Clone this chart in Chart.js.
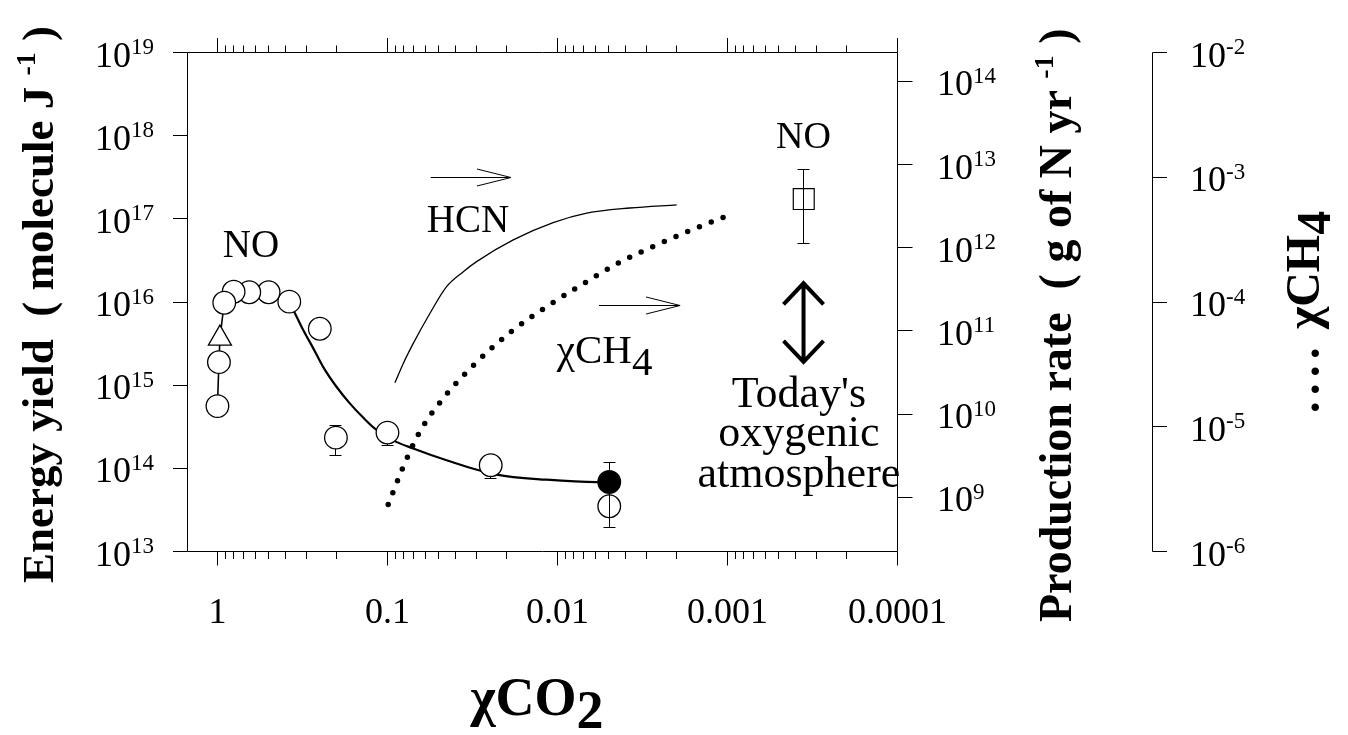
<!DOCTYPE html>
<html>
<head>
<meta charset="utf-8">
<script src="https://cdn.jsdelivr.net/npm/chart.js@4.4.0/dist/chart.umd.min.js"></script>
<style>
  html, body { margin: 0; padding: 0; background: #fff; }
  canvas { display: block; }
</style>
</head>
<body>
<canvas id="chart" width="1348" height="735"></canvas>
<script>
/* ===========================
   DATA
=========================== */
// NO energy yield, open circles
const noCO2   = [0.0247, 0.1, 0.201, 0.25, 0.378, 0.5, 0.65, 0.803, 0.912, 0.98, 1.0];
const noYield = [1.09e14, 2.69e14, 2.34e14, 4.77e15, 1.01e16, 1.31e16, 1.31e16, 1.33e16, 9.8e15, 1.89e15, 5.6e14];

// open triangle
const triCO2   = [0.967];
const triYield = [3.65e15];

// short line through the points near chi CO2 = 1
const linkCO2   = [1.0, 0.98, 0.967, 0.912];
const linkYield = [5.6e14, 1.89e15, 3.65e15, 9.8e15];

// present-day CO2 level: filled and open circle
const nowFilledCO2   = [0.00496];
const nowFilledYield = [6.84e13];
const nowOpenCO2     = [0.00496];
const nowOpenYield   = [3.5e13];

// today's oxygenic atmosphere (square)
const todayCO2   = [0.000356];
const todayYield = [1.73e17];

// fitted curve through the NO yields
const fitCO2   = [0.378, 0.353, 0.313, 0.273, 0.239, 0.199, 0.166, 0.139, 0.1185, 0.0924, 0.0705, 0.0449, 0.0228, 0.0116, 0.00588, 0.00496];
const fitYield = [1.01e16, 7.6e15, 4.6e15, 2.77e15, 1.66e15, 9.5e14, 6.0e14, 4.08e14, 3.0e14, 2.17e14, 1.73e14, 1.25e14, 8.4e13, 7.3e13, 6.84e13, 6.84e13];

// HCN production rate (g of N / yr)
const hcnCO2  = [0.0904, 0.0807, 0.0705, 0.0562, 0.0449, 0.0358, 0.0299, 0.0182, 0.0106, 0.00673, 0.00375, 0.00199];
const hcnRate = [2.37e10, 4.06e10, 7.07e10, 1.63e11, 3.4e11, 5.15e11, 6.8e11, 1.24e12, 2.0e12, 2.6e12, 3.0e12, 3.28e12];

// methane mixing ratio (dotted)
const ch4CO2 = [0.099, 0.0814, 0.065, 0.047, 0.0299, 0.0186, 0.0113, 0.00705, 0.00439, 0.00273, 0.00166, 0.00103];
const ch4Mix = [2.38e-6, 4.65e-6, 8.95e-6, 1.69e-5, 3.29e-5, 5.83e-5, 9.38e-5, 1.40e-4, 2.05e-4, 2.79e-4, 3.74e-4, 4.84e-4];

// error bars (energy yield axis)
const errCO2 = [0.201, 0.1, 0.0247, 0.00496, 0.000356];
const errLo  = [1.41e14, 1.86e14, 7.5e13, 1.95e13, 5.0e16];
const errHi  = [3.3e14, 2.69e14, 1.09e14, 1.17e14, 3.97e17];

// ticks
const xTickVals   = [1, 0.1, 0.01, 0.001, 0.0001];
const xTickLabels = ["1", "0.1", "0.01", "0.001", "0.0001"];
const yieldExp = [13, 14, 15, 16, 17, 18, 19];
const prodExp  = [9, 10, 11, 12, 13, 14];
const ch4Exp   = [-6, -5, -4, -3, -2];

/* ===========================
   HELPERS
=========================== */
const SERIF = '"Liberation Serif", "Times New Roman", serif';
const font = (size, bold) => (bold ? "bold " : "") + size + "px " + SERIF;
const pts = (xs, ys) => xs.map((x, i) => ({ x, y: ys[i] }));
const snap = v => Math.round(v - 0.5) + 0.5;

// a part may carry extra letter spacing (gap)
function partWidth(ctx, p) {
  ctx.font = p.font;
  if (!p.gap) return ctx.measureText(p.text).width;
  return [...p.text].reduce((w, ch) => w + ctx.measureText(ch).width + p.gap, 0);
}

function drawRich(ctx, parts, x, y, align) {
  const w = parts.reduce((s, p) => s + partWidth(ctx, p), 0);
  let cx = align === "center" ? x - w / 2 : align === "right" ? x - w : x;
  ctx.textAlign = "left";
  ctx.textBaseline = "alphabetic";
  parts.forEach(p => {
    ctx.font = p.font;
    if (p.gap) {
      [...p.text].forEach(ch => {
        ctx.fillText(ch, cx, y + (p.dy || 0));
        cx += ctx.measureText(ch).width + p.gap;
      });
    } else {
      ctx.fillText(p.text, cx, y + (p.dy || 0));
      cx += ctx.measureText(p.text).width;
    }
  });
}

function drawRotated(ctx, parts, x, y) {
  ctx.save();
  ctx.translate(x, y);
  ctx.rotate(-Math.PI / 2);
  drawRich(ctx, parts, 0, 0, "left");
  ctx.restore();
}

function pow10Label(exp, size, supSize) {
  return [
    { text: "10", font: font(size) },
    { text: String(exp), font: font(supSize), dy: -12.5 }
  ];
}

/* ===========================
   ERROR BARS
=========================== */
const errorBars = {
  id: "errorBars",
  beforeDatasetsDraw(chart) {
    const { ctx, scales } = chart;
    ctx.save();
    ctx.strokeStyle = "#000";
    ctx.lineWidth = 1;
    errCO2.forEach((c, i) => {
      const px = snap(scales.x.getPixelForValue(c));
      const lo = scales.y.getPixelForValue(errLo[i]);
      const hi = scales.y.getPixelForValue(errHi[i]);
      ctx.beginPath();
      ctx.moveTo(px, lo); ctx.lineTo(px, hi);
      ctx.moveTo(px - 6, snap(lo)); ctx.lineTo(px + 6, snap(lo));
      ctx.moveTo(px - 6, snap(hi)); ctx.lineTo(px + 6, snap(hi));
      ctx.stroke();
    });
    ctx.restore();
  }
};

/* ===========================
   AXES, LABELS, NOTES
=========================== */
const CH4_AXIS_X = 1152.5;

const frame = {
  id: "frame",
  afterDraw(chart) {
    const { ctx, chartArea: a, scales } = chart;
    const xs = scales.x, ys = scales.y, yp = scales.yProd, yc = scales.yCH4;
    ctx.save();
    ctx.strokeStyle = "#000";
    ctx.fillStyle = "#000";
    ctx.lineWidth = 1;

    ctx.beginPath();
    // plot box (right side is the production-rate axis)
    ctx.moveTo(a.left, a.top); ctx.lineTo(a.left, a.bottom);
    ctx.moveTo(a.left, a.top); ctx.lineTo(a.right, a.top);
    ctx.moveTo(a.left, a.bottom); ctx.lineTo(a.right, a.bottom);
    ctx.moveTo(a.right, a.top); ctx.lineTo(a.right, a.bottom);

    // energy-yield ticks
    yieldExp.forEach(e => {
      const py = snap(ys.getPixelForValue(Math.pow(10, e)));
      ctx.moveTo(a.left - 14.5, py); ctx.lineTo(a.left, py);
    });
    // production-rate ticks
    prodExp.forEach(e => {
      const py = snap(yp.getPixelForValue(Math.pow(10, e)));
      ctx.moveTo(a.right, py); ctx.lineTo(a.right + 15, py);
    });
    // methane axis
    ctx.moveTo(CH4_AXIS_X, a.top); ctx.lineTo(CH4_AXIS_X, a.bottom);
    ch4Exp.forEach(e => {
      const py = snap(yc.getPixelForValue(Math.pow(10, e)));
      ctx.moveTo(CH4_AXIS_X, py); ctx.lineTo(CH4_AXIS_X + 14.5, py);
    });
    // chi CO2 ticks, top and bottom, majors and minors
    xTickVals.forEach(v => {
      const px = snap(xs.getPixelForValue(v));
      ctx.moveTo(px, a.top); ctx.lineTo(px, a.top - 14.5);
      ctx.moveTo(px, a.bottom); ctx.lineTo(px, a.bottom + 14);
      for (let m = 2; m <= 9; m++) {
        const mv = m * v;
        if (mv > xs.max) break;
        const mx = snap(xs.getPixelForValue(mv));
        ctx.moveTo(mx, a.top); ctx.lineTo(mx, a.top - 7);
        ctx.moveTo(mx, a.bottom); ctx.lineTo(mx, a.bottom + 7.5);
      }
    });
    ctx.stroke();

    // tick labels
    yieldExp.forEach(e => {
      const py = ys.getPixelForValue(Math.pow(10, e));
      drawRich(ctx, pow10Label(e, 36, 23), 154, py + 14, "right");
    });
    prodExp.forEach(e => {
      const py = yp.getPixelForValue(Math.pow(10, e));
      drawRich(ctx, pow10Label(e, 36, 23), 937, py + 14, "left");
    });
    ch4Exp.forEach(e => {
      const py = yc.getPixelForValue(Math.pow(10, e));
      drawRich(ctx, pow10Label(e, 36, 23), 1190, py + 14, "left");
    });
    xTickVals.forEach((v, i) => {
      drawRich(ctx, [{ text: xTickLabels[i], font: font(36) }], xs.getPixelForValue(v), 623, "center");
    });

    // axis titles
    drawRotated(ctx, [
      { text: "Energy yield  ( molecule J ", font: font(45, true) },
      { text: "-1", font: font(28, true), dy: -18 },
      { text: " )", font: font(45, true) }
    ], 53, 583);
    drawRotated(ctx, [
      { text: "Production rate  ( g of N yr ", font: font(46, true) },
      { text: "-1", font: font(28, true), dy: -18 },
      { text: " )", font: font(46, true) }
    ], 1071, 622);
    drawRotated(ctx, [
      { text: "....", font: font(46, true), gap: 6.5 },
      { text: " \u03C7CH", font: font(48, true) },
      { text: "4", font: font(48, true), dy: 11 }
    ], 1319, 413);
    drawRich(ctx, [
      { text: "\u03C7CO", font: font(54, true) },
      { text: "2", font: font(54, true), dy: 13 }
    ], 537, 715, "center");

    // notes placed in data coordinates
    const X = v => xs.getPixelForValue(v), Y = v => ys.getPixelForValue(v);
    drawRich(ctx, [{ text: "NO", font: font(39) }], X(0.635), Y(3.48e16), "center");
    drawRich(ctx, [{ text: "HCN", font: font(39) }], X(0.0336), Y(6.94e16), "center");
    drawRich(ctx, [
      { text: "\u03C7CH", font: font(41) },
      { text: "4", font: font(41), dy: 12 }
    ], X(0.0101), Y(1.85e15), "left");
    drawRich(ctx, [{ text: "NO", font: font(38) }], X(0.000357), Y(7.05e17), "center");
    drawRich(ctx, [{ text: "Today's", font: font(44) }], X(0.00038), Y(5.46e14), "center");
    drawRich(ctx, [{ text: "oxygenic", font: font(44) }], X(0.00038), Y(1.855e14), "center");
    drawRich(ctx, [{ text: "atmosphere", font: font(44) }], X(0.00038), Y(5.96e13), "center");

    // thin arrows pointing to the right-hand axes
    const arrow = (x1, x2, y) => {
      ctx.beginPath();
      ctx.lineWidth = 1;
      ctx.moveTo(x1, y); ctx.lineTo(x2, y);
      ctx.moveTo(x2 - 34, y - 8.5); ctx.lineTo(x2, y); ctx.lineTo(x2 - 34, y + 8.5);
      ctx.stroke();
    };
    arrow(X(0.0557), X(0.01877), snap(Y(3.12e17)));
    arrow(X(0.0057), X(0.0019), snap(Y(9.12e15)));

    // double-headed arrow under today's NO
    const dx = X(0.000357), t = Y(1.68e16), b = Y(1.91e15);
    ctx.beginPath();
    ctx.lineWidth = 4;
    ctx.lineJoin = "miter";
    ctx.moveTo(dx, t + 1); ctx.lineTo(dx, b - 1);
    ctx.moveTo(dx - 20, t + 21); ctx.lineTo(dx, t); ctx.lineTo(dx + 20, t + 21);
    ctx.moveTo(dx - 20, b - 21); ctx.lineTo(dx, b); ctx.lineTo(dx + 20, b - 21);
    ctx.stroke();

    ctx.restore();
  }
};

/* ===========================
   CHART
=========================== */
new Chart(document.getElementById("chart"), {
  type: "scatter",
  data: {
    datasets: [
      {
        label: "NO",
        data: pts(noCO2, noYield),
        pointStyle: "circle",
        pointRadius: 11.3,
        backgroundColor: "#fff",
        borderColor: "#000",
        borderWidth: 1.3,
        order: 1
      },
      {
        label: "NO (triangle)",
        data: pts(triCO2, triYield),
        pointStyle: "triangle",
        pointRadius: 13.3,
        backgroundColor: "#fff",
        borderColor: "#000",
        borderWidth: 1.3,
        order: 1
      },
      {
        label: "NO, present CO2",
        data: pts(nowOpenCO2, nowOpenYield),
        pointStyle: "circle",
        pointRadius: 11.3,
        backgroundColor: "rgba(0,0,0,0)",
        borderColor: "#000",
        borderWidth: 1.3,
        order: 1
      },
      {
        label: "NO, present CO2 (filled)",
        data: pts(nowFilledCO2, nowFilledYield),
        pointStyle: "circle",
        pointRadius: 11.3,
        backgroundColor: "#000",
        borderColor: "#000",
        borderWidth: 1.3,
        order: 1
      },
      {
        label: "NO today",
        data: pts(todayCO2, todayYield),
        pointStyle: "rect",
        pointRadius: 14.8,
        backgroundColor: "rgba(0,0,0,0)",
        borderColor: "#000",
        borderWidth: 1.2,
        order: 1
      },
      {
        label: "link",
        data: pts(linkCO2, linkYield),
        showLine: true,
        pointRadius: 0,
        borderColor: "#000",
        borderWidth: 1.6,
        order: 5
      },
      {
        label: "fit",
        data: pts(fitCO2, fitYield),
        showLine: true,
        pointRadius: 0,
        borderColor: "#000",
        borderWidth: 2.2,
        cubicInterpolationMode: "monotone",
        order: 5
      },
      {
        label: "HCN",
        data: pts(hcnCO2, hcnRate),
        yAxisID: "yProd",
        showLine: true,
        pointRadius: 0,
        borderColor: "#000",
        borderWidth: 1.3,
        cubicInterpolationMode: "monotone",
        order: 5
      },
      {
        label: "CH4",
        data: pts(ch4CO2, ch4Mix),
        yAxisID: "yCH4",
        showLine: true,
        pointRadius: 0,
        borderColor: "#000",
        borderWidth: 5.5,
        borderCapStyle: "round",
        borderDash: [0, 12.7],
        cubicInterpolationMode: "monotone",
        order: 5
      }
    ]
  },
  options: {
    responsive: false,
    animation: false,
    devicePixelRatio: 1,
    layout: { padding: { left: 187.5, right: 450.5, top: 52.5, bottom: 183.5 } },
    plugins: { legend: { display: false }, tooltip: { enabled: false } },
    scales: {
      x:     { type: "logarithmic", reverse: true, min: 1e-4, max: 1.5, display: false },
      y:     { type: "logarithmic", min: 1e13, max: 1e19, display: false },
      yProd: { type: "logarithmic", position: "right", min: Math.pow(10, 8.347), max: Math.pow(10, 14.347), display: false },
      yCH4:  { type: "logarithmic", position: "right", min: 1e-6, max: 1e-2, display: false }
    }
  },
  plugins: [errorBars, frame]
});
</script>
</body>
</html>
